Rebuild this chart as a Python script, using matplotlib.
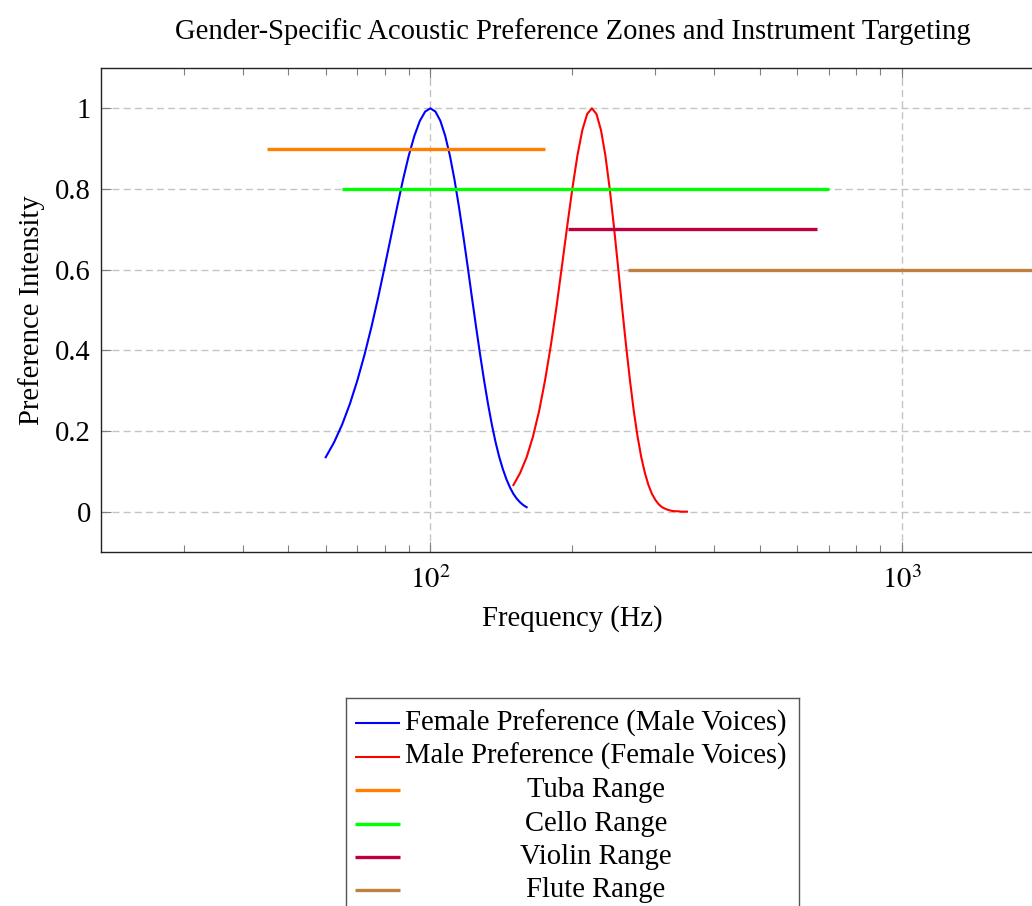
import math
import matplotlib
matplotlib.use("Agg")
import matplotlib.pyplot as plt
from matplotlib.ticker import FixedLocator, FuncFormatter, NullFormatter

plt.rcParams['font.family'] = ['Liberation Serif', 'DejaVu Serif']
plt.rcParams['mathtext.fontset'] = 'stix'
FS = 20.6

# preference curves
female_freq = [60, 62.5, 65, 67.5, 70, 72.5, 75, 77.5, 80, 82.5, 85, 87.5, 90, 92.5,
               95, 97.5, 100, 102.5, 105, 107.5, 110, 112.5, 115, 117.5, 120, 122.5,
               125, 127.5, 130, 132.5, 135, 137.5, 140, 142.5, 145, 147.5, 150,
               152.5, 155, 157.5, 160]
female_pref = [0.135, 0.172, 0.216, 0.267, 0.325, 0.389, 0.458, 0.531, 0.607, 0.682,
               0.755, 0.823, 0.883, 0.932, 0.969, 0.992, 1.0, 0.992, 0.969, 0.932,
               0.883, 0.823, 0.755, 0.682, 0.607, 0.531, 0.458, 0.389, 0.325, 0.267,
               0.216, 0.172, 0.135, 0.105, 0.080, 0.060, 0.044, 0.032, 0.023, 0.016,
               0.011]
male_freq = [150, 155, 160, 165, 170, 175, 180, 185, 190, 195, 200, 205, 210, 215,
             220, 225, 230, 235, 240, 245, 250, 255, 260, 265, 270, 275, 280, 285,
             290, 295, 300, 305, 310, 315, 320, 325, 330, 335, 340, 345, 350]
male_pref = [0.066, 0.096, 0.135, 0.186, 0.249, 0.325, 0.411, 0.506, 0.607, 0.707,
             0.801, 0.883, 0.946, 0.986, 1.0, 0.986, 0.946, 0.883, 0.801, 0.707,
             0.607, 0.506, 0.411, 0.325, 0.249, 0.186, 0.135, 0.096, 0.066, 0.044,
             0.029, 0.018, 0.011, 0.007, 0.004, 0.002, 0.001, 0.001, 0.0, 0.0, 0.0]

# instrument ranges (Hz) and the level they are drawn at
instruments = ['Tuba Range', 'Cello Range', 'Violin Range', 'Flute Range']
inst_low = [45, 65, 196, 262]
inst_high = [175, 700, 659, 2100]
inst_level = [0.9, 0.8, 0.7, 0.6]
inst_colors = ['#ff8000', '#00ff00', '#bf0040', '#bf8040']

curve_labels = ['Female Preference (Male Voices)', 'Male Preference (Female Voices)']
curve_colors = ['#0000ff', '#ff0000']

fig = plt.figure(figsize=(10.32, 9.06), dpi=100)
ax = fig.add_axes([100.7 / 1032, 1 - 552 / 906, 943.3 / 1032, 484 / 906])

handles = []
h, = ax.plot(female_freq, female_pref, color=curve_colors[0], lw=1.5)
handles.append(h)
h, = ax.plot(male_freq, male_pref, color=curve_colors[1], lw=1.5)
handles.append(h)
for lo, hi, lev, c in zip(inst_low, inst_high, inst_level, inst_colors):
    h, = ax.plot([lo, hi], [lev, lev], color=c, lw=2.4, solid_capstyle='butt')
    handles.append(h)

ax.set_xscale('log')
ax.set_xlim(20, 2000)
ax.set_ylim(-0.1, 1.1)
ax.xaxis.set_major_locator(FixedLocator([100, 1000]))
ax.xaxis.set_minor_locator(FixedLocator([30, 40, 50, 60, 70, 80, 90,
                                         200, 300, 400, 500, 600, 700, 800, 900]))
ax.xaxis.set_minor_formatter(NullFormatter())
ax.xaxis.set_major_formatter(FuncFormatter(lambda v, p: r'$10^{%d}$' % round(math.log10(v))))
ax.yaxis.set_major_locator(FixedLocator([0, 0.2, 0.4, 0.6, 0.8, 1.0]))
ax.yaxis.set_major_formatter(FuncFormatter(lambda v, p: '%g' % round(v, 1)))

ax.grid(True, which='major', color='#c4c4c4', lw=1.0, linestyle=(0, (5, 3)))
ax.tick_params(which='both', direction='in', top=True, right=True, color='#808080',
               labelsize=FS, width=0.8)
ax.tick_params(which='major', length=7, pad=7)
ax.tick_params(axis='x', which='major', pad=10)
ax.tick_params(which='minor', length=5)
for s in ax.spines.values():
    s.set_color('#222222')
    s.set_linewidth(1.0)

ax.set_title('Gender-Specific Acoustic Preference Zones and Instrument Targeting',
             fontsize=FS, pad=21)
ax.set_xlabel('Frequency (Hz)', fontsize=FS, labelpad=8)
ax.set_ylabel('Preference Intensity', fontsize=FS, labelpad=7)

# legend box below the plot, labels centred as in the original
lax = fig.add_axes([346 / 1032, -7 / 906, 453 / 1032, 215 / 906])
lax.set_xlim(0, 1)
lax.set_ylim(0, 1)
lax.set_xticks([])
lax.set_yticks([])
for s in lax.spines.values():
    s.set_color('#555555')
    s.set_linewidth(1.0)
labels = curve_labels + instruments
row_y = [0.882 - i * 0.1553 for i in range(len(labels))]
for hd, lab, y in zip(handles, labels, row_y):
    lax.plot([0.02, 0.119], [y, y], color=hd.get_color(), lw=hd.get_linewidth(),
             solid_capstyle='butt')
    lax.text(0.552, y, lab, ha='center', va='center', fontsize=FS)

fig.savefig('out.png', dpi=100)
